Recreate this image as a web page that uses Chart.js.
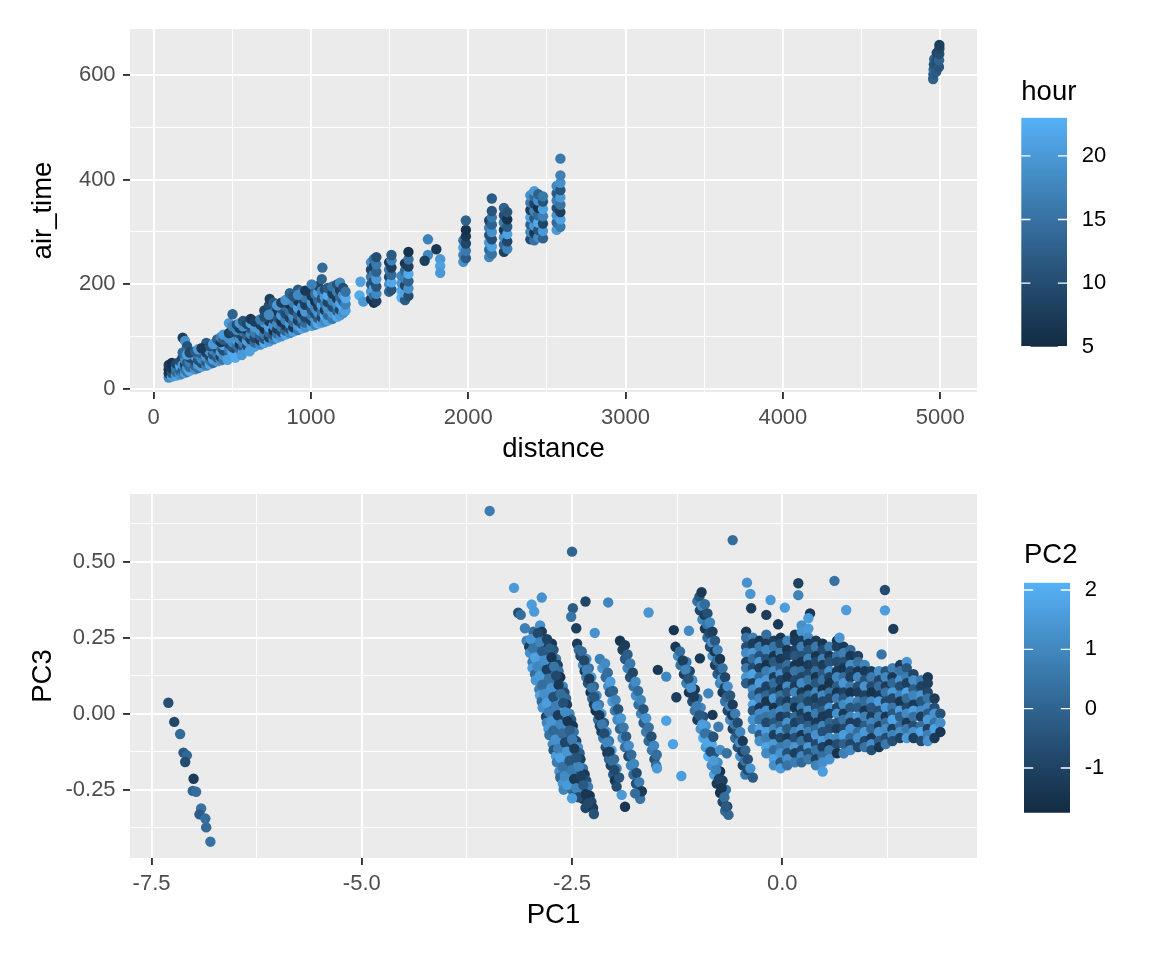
<!DOCTYPE html>
<html><head><meta charset="utf-8">
<script src="https://cdn.jsdelivr.net/npm/chart.js@4.4.1/dist/chart.umd.min.js"></script>
<style>
html,body{margin:0;padding:0;background:#ffffff;}
#wrap{position:relative;width:1152px;height:960px;overflow:hidden;background:#ffffff;}
canvas{position:absolute;display:block;}
</style></head><body>
<div id="wrap">
<canvas id="cTop" width="1152" height="480" style="left:0;top:0;width:1152px;height:480px"></canvas>
<canvas id="cBottom" width="1152" height="480" style="left:0;top:480px;width:1152px;height:480px"></canvas>
<canvas id="lTop" width="152" height="310" style="left:1000px;top:60px;width:152px;height:310px"></canvas>
<canvas id="lBottom" width="152" height="320" style="left:1000px;top:520px;width:152px;height:320px"></canvas>
</div>
<script>
// ---------------- DATA: top panel [distance, air_time, hour] ----------------
const flightsBand = [
[96,22,18],[96,30,7],[96,38,6],[96,46,8],
[116,24,20],[116,31,11],[116,40,7],[116,50,6],
[143,26,21],[143,33,14],[143,41,16],[143,49,9],
[169,28,19],[169,35,13],[169,44,22],[169,53,10],
[185,30,17],[185,37,12],[185,46,20],[185,62,9],[185,98,8],
[200,31,21],[200,38,15],[200,47,8],[200,56,18],[200,92,19],
[213,33,16],[213,41,20],[213,50,12],[213,82,11],
[229,35,22],[229,42,14],[229,52,17],[229,60,10],
[264,38,19],[264,45,13],[264,54,9],[264,63,21],
[283,40,15],[283,47,20],[283,56,11],[283,66,16],
[305,43,21],[305,50,10],[305,58,18],[305,68,13],
[335,45,17],[335,52,12],[335,61,20],[335,70,8],[335,88,12],
[357,48,22],[357,55,16],[357,63,9],[357,72,19],
[378,50,14],[378,57,21],[378,66,11],[378,75,17],
[404,53,20],[404,60,12],[404,68,16],[404,78,9],[404,86,19],
[427,55,18],[427,62,8],[427,71,21],[427,80,14],
[444,57,15],[444,65,19],[444,74,10],[444,84,22],
[479,61,21],[479,68,13],[479,77,17],[479,87,9],[479,126,20],
[502,64,16],[502,71,22],[502,80,11],[502,90,18],[502,100,14],[502,143,13],
[529,67,20],[529,74,9],[529,83,15],[529,93,21],[529,103,12],
[547,70,18],[547,77,14],[547,86,7],[547,96,19],[547,106,10],
[569,72,22],[569,80,12],[569,89,17],[569,99,8],[569,110,15],
[594,75,19],[594,83,10],[594,92,21],[594,102,13],[594,113,6],
[617,78,16],[617,86,20],[617,95,8],[617,105,18],[617,116,11],
[642,81,21],[642,89,14],[642,98,9],[642,108,16],[642,119,20],
[678,85,18],[678,93,7],[678,102,13],[678,112,20],[678,123,8],
[704,88,22],[704,96,11],[704,105,16],[704,115,6],[704,127,19],[704,150,9],
[733,91,20],[733,99,8],[733,108,14],[733,118,21],[733,130,7],[733,160,10],[738,172,8],
[762,95,17],[762,103,12],[762,112,6],[762,122,19],[762,134,9],[762,146,15],[762,165,12],
[786,98,21],[786,106,15],[786,115,8],[786,125,18],[786,137,11],[786,150,7],
[812,101,19],[812,109,9],[812,119,16],[812,129,6],[812,141,20],[812,154,12],
[838,104,22],[838,112,13],[838,122,7],[838,132,17],[838,144,10],[838,158,14],
[866,107,18],[866,115,10],[866,125,20],[866,136,8],[866,148,15],[866,162,6],[866,175,9],
[888,110,21],[888,118,7],[888,128,14],[888,139,19],[888,151,9],[888,165,17],
[918,113,16],[918,121,20],[918,131,8],[918,142,13],[918,155,21],[918,168,7],[918,190,12],
[944,116,22],[944,124,11],[944,134,17],[944,145,6],[944,158,19],[944,172,10],[944,186,15],
[964,118,19],[964,127,14],[964,137,9],[964,148,20],[964,161,8],[964,175,16],
[1005,121,21],[1005,130,8],[1005,140,16],[1005,151,11],[1005,164,20],[1005,178,7],[1005,192,13],
[1028,123,17],[1028,133,20],[1028,143,10],[1028,154,18],[1028,167,6],[1028,181,15],
[1046,125,22],[1046,135,12],[1046,146,19],[1046,157,8],[1046,170,14],[1046,184,21],[1046,197,9],
[1069,127,20],[1069,137,9],[1069,148,15],[1069,160,21],[1069,173,11],[1069,187,17],[1069,210,13],[1073,232,14],
[1089,129,18],[1089,140,22],[1089,151,7],[1089,163,16],[1089,176,20],[1089,190,10],
[1107,131,21],[1107,142,14],[1107,154,19],[1107,166,9],[1107,179,22],[1107,193,12],
[1137,134,16],[1137,145,20],[1137,157,10],[1137,169,18],[1137,182,8],[1137,196,15],
[1167,138,22],[1167,149,13],[1167,161,19],[1167,173,7],[1167,186,17],[1167,200,11],
[1185,141,20],[1185,152,9],[1185,164,21],[1185,176,14],[1185,189,8],[1185,203,18],
[1205,145,19],[1205,156,22],[1205,168,12],[1205,180,20],[1205,193,10],
[1220,150,21],[1220,162,17],[1220,174,22],[1220,186,15]
];
const flightsBandEdges = [
[185,70,14],[213,66,21],[229,70,9],[264,72,12],[283,76,20],[305,78,7],[357,82,11],[378,86,20],
[404,95,13],[427,90,7],[427,99,17],[444,94,12],[444,104,20],[479,97,19],[479,107,8],[502,110,9],
[502,120,17],[529,113,18],[529,123,10],[547,116,8],[547,126,20],[569,120,19],[569,130,11],[594,124,9],
[617,126,21],[617,134,7],[642,129,8],[678,133,16],[704,138,10],[733,142,18],[786,160,20],[812,165,8],
[838,170,19],[866,183,13],[888,177,11],[918,180,18],[964,188,7],[1005,200,17],
[470,56,21],[520,60,22],[560,65,20],[610,72,21]
];
const flightsColumns = [
[1315,205,21],[1309,179,22],[1333,167,20],
[1382,172,7],[1382,186,20],[1382,200,12],[1382,214,16],[1382,228,9],[1382,242,19],
[1400,165,6],[1400,178,14],[1400,192,21],[1400,206,10],[1400,220,17],[1400,234,8],[1400,248,15],
[1416,168,8],[1416,182,18],[1416,196,11],[1416,210,20],[1416,224,13],[1416,238,16],[1416,252,10],
[1497,186,13],[1497,200,19],[1497,214,9],[1497,228,16],[1497,242,7],
[1512,190,11],[1512,204,22],[1512,218,14],[1512,232,8],[1512,246,17],[1512,256,12],
[1576,175,23],[1576,188,22],[1576,202,20],[1576,216,18],
[1598,170,12],[1598,184,21],[1598,198,9],[1598,212,17],[1598,226,14],[1598,240,7],
[1620,178,10],[1620,192,19],[1620,206,13],[1620,220,22],[1620,234,8],[1620,248,15],[1620,262,6],
[1744,286,17],[1744,256,18],[1723,245,8],[1797,267,7],[1822,248,20],[1822,235,21],[1822,222,20],
[1969,243,19],[1969,256,17],[1969,270,21],[1969,284,15],
[1985,250,12],[1985,264,16],[1985,278,9],[1985,292,7],[1985,304,6],[1985,322,13],
[2133,252,18],[2133,266,14],[2133,280,20],[2133,294,11],[2133,308,17],[2133,322,9],
[2150,258,15],[2150,272,21],[2150,286,10],[2150,300,19],[2150,314,13],[2150,328,16],[2150,340,11],[2150,364,12],
[2227,262,8],[2227,276,14],[2227,290,19],[2227,304,7],[2227,318,16],[2227,332,10],[2227,346,13],
[2248,268,17],[2248,282,9],[2248,296,21],[2248,310,12],[2248,324,6],[2248,338,11],
[2395,286,10],[2395,300,18],[2395,314,13],[2395,328,21],[2395,342,8],[2395,356,16],[2395,370,19],
[2420,284,15],[2420,298,7],[2420,312,20],[2420,326,12],[2420,340,17],[2420,354,9],[2420,368,14],[2420,378,20],
[2445,290,18],[2445,304,11],[2445,318,22],[2445,332,14],[2445,346,6],[2445,360,19],[2445,372,13],
[2475,288,13],[2475,302,20],[2475,316,9],[2475,330,17],[2475,344,21],[2475,358,11],[2475,368,16],
[2562,304,20],[2562,318,14],[2562,332,19],[2562,346,10],[2562,360,17],[2562,374,12],[2562,388,18],
[2586,310,16],[2586,324,21],[2586,338,8],[2586,352,15],[2586,366,20],[2586,380,11],[2586,394,19],[2586,408,17],[2586,440,16]
];
const flightsHNL = [
[4955,592,13],[4957,601,12],[4958,610,14],[4960,620,11],[4962,630,13],
[4975,606,12],[4976,626,10],[4978,642,9],
[4992,615,11],[4993,628,13],[4994,640,10],[4995,650,9],[4995,657,8]
];
const hourRange = [5, 23];
const hourBreaks = [5, 10, 15, 20];
const distanceTicks = [0, 500, 1000, 1500, 2000, 2500, 3000, 3500, 4000, 4500, 5000];
const airTimeTicks = [0, 100, 200, 300, 400, 500, 600];

// ---------------- DATA: bottom panel [PC1, PC3, PC2] ----------------
const pcaFar = [
[-7.30,0.036,-0.6],[-7.23,-0.027,-0.9],[-7.16,-0.067,0.2],[-7.12,-0.128,-0.3],[-7.08,-0.137,0.1],
[-7.10,-0.159,-0.7],[-7.00,-0.214,-1.2],[-7.01,-0.254,0.0],[-6.97,-0.257,0.3],[-6.91,-0.312,0.4],
[-6.93,-0.331,-0.2],[-6.86,-0.345,0.3],[-6.85,-0.374,0.2],[-6.80,-0.421,0.4]
];
const stripesLeft = [
[-3.04,0.24,0.9],[-3.01,0.22,-1.1],[-3.00,0.20,1.2],[-2.97,0.17,0.6],[-2.97,0.15,1.6],[-2.94,0.13,0.3],[-2.93,0.11,1.4],[-2.89,0.08,0.8],[-2.88,0.06,1.7],[-2.86,0.04,0.2],[-2.85,0.02,1.3],[-2.81,-0.01,-0.9],[-2.80,-0.03,1.0],[-2.78,-0.05,1.5],[-2.77,-0.07,0.4],[-2.73,-0.10,1.1],[-2.72,-0.12,-0.4],[-2.69,-0.14,1.6],[-2.68,-0.16,0.7],[-2.65,-0.19,1.2],[-2.64,-0.21,0.1],[-2.61,-0.23,1.4],[-2.60,-0.25,0.9],
[-2.96,0.27,0.2],[-2.94,0.25,1.1],[-2.93,0.23,-0.6],[-2.90,0.20,0.7],[-2.89,0.18,1.5],[-2.86,0.16,-0.2],[-2.85,0.14,0.9],[-2.82,0.11,1.3],[-2.81,0.09,0.0],[-2.78,0.07,1.6],[-2.77,0.05,0.5],[-2.74,0.02,-1.0],[-2.72,0.00,1.2],[-2.71,-0.02,0.3],[-2.68,-0.04,1.4],[-2.66,-0.07,-0.5],[-2.65,-0.09,0.8],[-2.62,-0.11,1.7],[-2.60,-0.13,0.1],[-2.58,-0.16,1.0],[-2.57,-0.18,-0.8],[-2.54,-0.20,0.6],[-2.52,-0.22,1.3],[-2.50,-0.25,0.2],[-2.48,-0.27,-0.3],
[-2.88,0.29,1.3],[-2.86,0.27,-1.2],[-2.84,0.24,0.4],[-2.82,0.22,-1.4],[-2.80,0.20,-0.7],[-2.78,0.18,0.9],[-2.76,0.15,-1.3],[-2.74,0.13,0.2],[-2.72,0.11,-0.9],[-2.70,0.09,1.1],[-2.67,0.06,-0.4],[-2.66,0.04,1.5],[-2.64,0.02,1.8],[-2.61,-0.01,0.6],[-2.59,-0.03,-1.1],[-2.58,-0.05,1.2],[-2.56,-0.07,-0.2],[-2.53,-0.10,0.9],[-2.51,-0.12,-1.3],[-2.49,-0.14,0.5],[-2.48,-0.16,1.4],[-2.45,-0.19,-0.6],[-2.43,-0.21,0.3],[-2.41,-0.23,-1.2],[-2.39,-0.26,0.8],[-2.37,-0.28,-1.4],[-2.34,-0.31,-0.9],
[-2.74,0.23,-1.3],[-2.72,0.21,-0.4],[-2.69,0.18,0.6],[-2.67,0.16,-1.0],[-2.66,0.14,0.3],[-2.64,0.12,-1.5],[-2.61,0.09,0.9],[-2.59,0.07,-0.7],[-2.57,0.05,0.2],[-2.56,0.03,-1.2],[-2.53,0.00,1.0],[-2.51,-0.02,-0.3],[-2.49,-0.04,-1.4],[-2.48,-0.06,0.5],[-2.45,-0.09,-0.9],[-2.43,-0.11,1.2],[-2.41,-0.13,-0.1],[-2.40,-0.15,-1.1],[-2.37,-0.18,0.4],[-2.35,-0.20,-1.3],[-2.33,-0.22,-0.6],[-2.31,-0.24,0.7],[-2.29,-0.27,-1.4],[-2.27,-0.29,-0.8],[-2.25,-0.31,-1.2],[-2.24,-0.33,-0.5]
];
const stripesLeftFill = [
[-2.990,0.245,1.4],[-2.962,0.215,0.5],[-2.938,0.185,1.7],[-2.911,0.155,1.0],[-2.884,0.125,1.5],[-2.855,0.095,0.3],[-2.830,0.065,1.2],[-2.803,0.035,1.6],[-2.774,0.005,0.7],[-2.749,-0.025,1.4],[-2.720,-0.055,0.1],[-2.695,-0.085,1.3],[-2.666,-0.115,0.8],[-2.641,-0.145,1.7],[-2.612,-0.175,0.4],[-2.587,-0.205,1.1],[-2.558,-0.235,1.5],
[-2.908,0.265,-0.8],[-2.883,0.235,0.9],[-2.854,0.205,-0.3],[-2.829,0.175,1.2],[-2.800,0.145,-1.1],[-2.775,0.115,0.4],[-2.746,0.085,1.3],[-2.721,0.055,-0.6],[-2.692,0.025,0.8],[-2.667,-0.005,-1.2],[-2.638,-0.035,1.0],[-2.613,-0.065,0.2],[-2.584,-0.095,-0.9],[-2.559,-0.125,1.4],[-2.530,-0.155,-0.4],[-2.505,-0.185,0.6],[-2.476,-0.215,-1.3],[-2.451,-0.245,0.9],[-2.422,-0.275,-0.7],
[-2.797,0.245,-1.0],[-2.768,0.215,-0.2],[-2.743,0.185,-1.4],[-2.714,0.155,0.5],[-2.689,0.125,-0.8],[-2.660,0.095,-1.3],[-2.635,0.065,0.3],[-2.606,0.035,-0.6],[-2.581,0.005,1.1],[-2.552,-0.025,-1.4],[-2.527,-0.055,-0.1],[-2.498,-0.085,0.7],[-2.473,-0.115,-1.2],[-2.444,-0.145,-0.5],[-2.419,-0.175,0.9],[-2.390,-0.205,-1.1],[-2.365,-0.235,-0.3],[-2.336,-0.265,-1.4],[-2.311,-0.295,-0.8]
];
const stripesMid = [
[-2.44,0.23,-1.2],[-2.42,0.21,0.3],[-2.40,0.19,-0.8],[-2.37,0.16,1.1],[-2.35,0.14,-1.3],[-2.33,0.12,0.6],[-2.31,0.10,-0.5],[-2.28,0.07,-1.4],[-2.26,0.05,0.2],[-2.24,0.03,-1.1],[-2.22,0.01,-1.5],[-2.19,-0.02,0.4],[-2.17,-0.04,-0.9],[-2.15,-0.06,-1.2],[-2.13,-0.08,0.7],[-2.10,-0.11,-0.6],[-2.08,-0.13,-1.3],[-2.06,-0.15,0.1],[-2.04,-0.17,-1.0],[-2.01,-0.20,-0.3],[-1.99,-0.22,-1.4],[-1.97,-0.24,-0.7],
[-2.33,0.18,1.2],[-2.30,0.15,0.4],[-2.27,0.12,1.5],[-2.24,0.09,0.0],[-2.21,0.06,1.1],[-2.18,0.03,0.7],[-2.15,0.00,1.6],[-2.12,-0.03,-0.2],[-2.09,-0.06,1.3],[-2.06,-0.09,0.5],[-2.03,-0.12,1.8],[-2.00,-0.15,0.2],[-1.97,-0.18,1.0],[-1.94,-0.21,-0.4],
[-2.385,0.205,0.2],[-2.355,0.175,-0.9],[-2.325,0.145,0.8],[-2.295,0.115,-1.2],[-2.265,0.085,0.5],[-2.235,0.055,-0.4],[-2.205,0.025,1.2],[-2.175,-0.005,-1.3],[-2.145,-0.035,0.6],[-2.115,-0.065,-0.7],[-2.085,-0.095,1.0],[-2.055,-0.125,-1.1],[-2.025,-0.155,0.3],[-1.995,-0.185,-0.8],
[-2.17,0.18,0.8],[-2.14,0.15,1.4],[-2.10,0.12,0.2],[-2.07,0.09,1.2],[-2.05,0.07,-0.3],[-2.02,0.04,1.5],[-1.99,0.01,0.6],[-1.96,-0.02,1.1],[-1.93,-0.05,0.0],[-1.90,-0.08,1.3],[-1.87,-0.11,0.4],[-1.83,-0.14,-0.8],[-1.80,-0.17,0.9],[-1.77,-0.20,0.3],[-1.74,-0.23,-0.6],[-1.71,-0.26,-1.0],[-1.69,-0.28,0.5],
[-2.107,0.165,1.1],[-2.075,0.135,0.3],[-2.044,0.105,1.6],[-2.013,0.075,0.0],[-1.982,0.045,0.9],[-1.951,0.015,-0.5],[-1.919,-0.015,1.4],[-1.888,-0.045,0.6],[-1.857,-0.075,-0.2],[-1.826,-0.105,1.2],[-1.795,-0.135,0.2],[-1.763,-0.165,1.0],[-1.732,-0.195,-0.7],[-1.701,-0.225,0.7],[-1.670,-0.255,-1.2],
[-1.93,0.24,-1.4],[-1.90,0.21,-1.1],[-1.87,0.18,-0.3],[-1.84,0.15,0.9],[-1.81,0.12,-0.6],[-1.77,0.09,0.5],[-1.74,0.06,1.2],[-1.71,0.03,0.3],[-1.68,0.00,1.0],[-1.65,-0.03,-0.2],[-1.62,-0.06,0.7],[-1.59,-0.09,0.1],[-1.55,-0.12,0.6],[-1.52,-0.15,-0.5],[-1.50,-0.17,0.2],
[-1.871,0.225,-1.2],[-1.840,0.195,-0.2],[-1.808,0.165,0.6],[-1.777,0.135,-0.9],[-1.745,0.105,1.1],[-1.714,0.075,0.2],[-1.682,0.045,0.9],[-1.651,0.015,-0.4],[-1.619,-0.015,1.3],[-1.588,-0.045,0.4],[-1.556,-0.075,-0.6],[-1.525,-0.105,1.0],[-1.493,-0.135,0.3]
];
const stripesRight = [
[-1.27,0.22,-1.3],[-1.24,0.19,1.1],[-1.21,0.16,0.4],[-1.17,0.13,-1.0],[-1.14,0.10,0.8],[-1.11,0.07,-1.4],[-1.07,0.04,-0.6],[-1.04,0.01,0.5],[-1.01,-0.02,-1.2],[-0.97,-0.05,1.3],[-0.94,-0.08,1.9],[-0.91,-0.11,1.5],[-0.88,-0.14,2.0],[-0.84,-0.17,1.2],[-0.81,-0.20,1.7],[-0.78,-0.23,-1.3],[-0.74,-0.26,-1.5],[-0.71,-0.29,-0.9],[-0.68,-0.32,0.2],
[-1.14,0.17,0.6],[-1.10,0.14,-0.8],[-1.07,0.11,1.2],[-1.04,0.08,-1.3],[-1.01,0.05,0.3],[-0.97,0.02,1.0],[-0.94,-0.01,-0.5],[-0.91,-0.04,1.4],[-0.87,-0.07,0.7],[-0.84,-0.10,1.8],[-0.81,-0.13,-0.2],[-0.77,-0.16,1.1],[-0.74,-0.19,-1.4],[-0.71,-0.22,-1.1],[-0.67,-0.25,0.4],
[-1.216,0.205,0.3],[-1.183,0.175,-1.1],[-1.150,0.145,0.9],[-1.117,0.115,-0.5],[-1.084,0.085,1.3],[-1.051,0.055,-1.2],[-1.018,0.025,0.7],[-0.985,-0.005,-0.3],[-0.952,-0.035,1.6],[-0.919,-0.065,0.4],[-0.886,-0.095,1.8],[-0.853,-0.125,-0.6],[-0.820,-0.155,1.5],[-0.787,-0.185,0.9],[-0.754,-0.215,-1.0],[-0.721,-0.245,-1.4],[-0.688,-0.275,0.3],[-0.655,-0.305,-1.2],
[-1.01,0.37,0.4],[-0.98,0.34,-0.9],[-0.95,0.31,1.0],[-0.92,0.28,-1.3],[-0.89,0.25,0.2],[-0.86,0.22,-0.7],[-0.83,0.19,1.3],[-0.80,0.16,-1.2],[-0.77,0.13,-0.2],[-0.74,0.10,0.9],[-0.71,0.07,-1.4],[-0.68,0.04,0.5],[-0.65,0.01,-0.8],[-0.62,-0.02,1.1],[-0.59,-0.05,-1.1],[-0.56,-0.08,0.3],[-0.53,-0.11,-0.5],[-0.50,-0.14,1.2],[-0.47,-0.17,-1.0],[-0.44,-0.20,0.6],
[-0.985,0.385,-0.4],[-0.955,0.355,1.1],[-0.925,0.325,-1.2],[-0.895,0.295,0.5],[-0.865,0.265,-0.8],[-0.835,0.235,1.2],[-0.805,0.205,-1.4],[-0.775,0.175,0.2],[-0.745,0.145,-0.6],[-0.715,0.115,1.3],[-0.685,0.085,-1.1],[-0.655,0.055,0.0],[-0.625,0.025,1.0],[-0.595,-0.005,-1.3],[-0.565,-0.035,0.6],[-0.535,-0.065,-0.4],[-0.505,-0.095,1.1],[-0.475,-0.125,-1.2],[-0.445,-0.155,0.4],[-0.415,-0.185,-0.7],
[-0.96,0.40,-1.3],[-0.92,0.36,0.2],[-0.89,0.33,-0.6],[-0.86,0.30,1.0],[-0.83,0.27,-1.1],[-0.80,0.24,-0.3],[-0.77,0.21,0.8],[-0.74,0.18,-1.4],[-0.71,0.15,0.4],[-0.68,0.12,-0.9],[-0.65,0.09,1.2],[-0.62,0.06,-0.4],[-0.59,0.03,-1.2],[-0.56,0.00,0.7],[-0.53,-0.03,-0.7],[-0.50,-0.06,1.0],[-0.47,-0.09,-1.3],[-0.44,-0.12,0.1],[-0.41,-0.15,-0.6],[-0.38,-0.18,1.3],[-0.35,-0.21,-0.2]
];
const pcaStray = [
[-3.48,0.667,0.7],[-2.50,0.533,0.0],[-3.19,0.414,1.5],[-2.86,0.382,1.3],[-2.98,0.359,1.6],[-2.95,0.336,1.5],
[-3.14,0.332,-0.6],[-3.11,0.325,0.3],[-3.06,0.281,0.8],[-2.49,0.347,-0.2],[-2.34,0.369,-0.9],[-2.51,0.319,0.5],
[-2.45,0.281,-1.1],[-2.07,0.366,1.0],[-2.23,0.266,1.3],[-1.59,0.333,1.4],[-1.48,0.144,-1.3],[-1.38,0.122,1.0],
[-1.26,0.054,-1.1],[-1.38,-0.023,1.7],[-1.30,-0.10,1.7],[-1.20,-0.205,1.6],[-1.11,0.273,1.1],[-1.29,0.275,-1.4],
[-2.50,-0.278,1.6],[-1.91,-0.267,1.5],[-1.87,-0.306,-1.4],[-1.49,-0.18,1.5],[-0.59,0.571,0.2],[-0.42,0.431,1.3],
[-0.38,0.394,1.4],[-0.37,0.347,-1.2],[-0.14,0.374,1.5],[0.03,0.349,1.6],[0.19,0.429,-1.0],[0.19,0.39,0.9],
[0.62,0.437,0.4],[0.76,0.341,1.6],[1.22,0.407,-0.7],[1.22,0.34,1.6],[1.32,0.279,-1.2],[1.18,0.195,0.5],
[0.68,0.25,1.4],[-0.19,0.325,-1.2],[-0.05,0.294,-1.3],[0.33,0.33,-1.3],[0.31,0.314,1.6],[-0.98,0.182,-1.3],
[-0.88,0.067,0.9],[-0.83,-0.004,-1.3],[-0.76,-0.043,0.7],[-0.74,-0.119,1.2],[-0.66,-0.13,0.4],[-0.82,-0.076,-0.5],
[-0.64,-0.333,0.1],[-0.67,-0.306,-0.3],[-1.75,-0.262,0.3]
];
// dense cluster, read column by column: PC1 of each column, PC3 and PC2 of its points
const blobPC1 = [-0.43,-0.35,-0.27,-0.19,-0.10,-0.02,0.06,0.15,0.23,0.31,0.40,0.48,0.56,0.65,0.73,0.81,0.90,0.98,1.06,1.15,1.23,1.31,1.40,1.48,1.56,1.65,1.73,1.81,1.88];
const blobPC3 = [
[0.27,0.25,0.22,0.20,0.17,0.15,0.12,0.10],
[0.25,0.23,0.20,0.18,0.15,0.13,0.10,0.08,0.06,0.03,0.01,-0.02,-0.05],
[0.24,0.22,0.19,0.17,0.15,0.12,0.10,0.07,0.05,0.02,0.00,-0.02,-0.05,-0.07,-0.09],
[0.26,0.23,0.21,0.18,0.16,0.14,0.11,0.09,0.06,0.04,0.01,-0.01,-0.03,-0.06,-0.08,-0.11,-0.13],
[0.24,0.22,0.19,0.17,0.14,0.12,0.10,0.07,0.05,0.02,0.00,-0.03,-0.05,-0.07,-0.10,-0.12,-0.15,-0.17],
[0.25,0.23,0.20,0.18,0.15,0.13,0.11,0.08,0.06,0.04,0.01,-0.01,-0.04,-0.06,-0.08,-0.11,-0.13,-0.16,-0.18],
[0.24,0.21,0.19,0.16,0.14,0.12,0.09,0.07,0.04,0.02,-0.01,-0.03,-0.05,-0.08,-0.10,-0.13,-0.15,-0.17],
[0.26,0.24,0.21,0.19,0.16,0.14,0.11,0.09,0.07,0.04,0.02,-0.01,-0.03,-0.06,-0.08,-0.11,-0.13,-0.16],
[0.29,0.27,0.24,0.22,0.19,0.17,0.14,0.12,0.10,0.07,0.05,0.02,0.00,-0.02,-0.05,-0.07,-0.09,-0.12,-0.14,-0.16],
[0.28,0.25,0.23,0.21,0.18,0.16,0.13,0.11,0.08,0.06,0.04,0.01,-0.01,-0.04,-0.06,-0.08,-0.11,-0.13,-0.15],
[0.24,0.22,0.19,0.17,0.14,0.12,0.10,0.07,0.05,0.02,0.00,-0.03,-0.05,-0.07,-0.10,-0.12,-0.15,-0.17],
[0.23,0.21,0.18,0.16,0.13,0.11,0.08,0.06,0.04,0.01,-0.01,-0.04,-0.06,-0.09,-0.11,-0.14,-0.16,-0.19],
[0.22,0.19,0.17,0.14,0.12,0.10,0.07,0.05,0.02,0.00,-0.03,-0.05,-0.08,-0.10,-0.12,-0.15],
[0.24,0.22,0.19,0.17,0.14,0.12,0.09,0.07,0.05,0.02,0.00,-0.03,-0.05,-0.08,-0.10,-0.13],
[0.22,0.20,0.17,0.15,0.12,0.10,0.07,0.05,0.03,0.00,-0.02,-0.05,-0.07,-0.10,-0.13],
[0.21,0.19,0.16,0.14,0.12,0.09,0.07,0.04,0.02,-0.01,-0.03,-0.05,-0.08,-0.10,-0.12],
[0.19,0.17,0.14,0.12,0.09,0.07,0.04,0.02,-0.01,-0.03,-0.06,-0.08,-0.11],
[0.16,0.14,0.11,0.09,0.06,0.04,0.01,-0.01,-0.04,-0.06,-0.09,-0.11],
[0.14,0.12,0.09,0.07,0.04,0.02,-0.01,-0.03,-0.05,-0.08,-0.10,-0.12],
[0.14,0.11,0.09,0.06,0.04,0.01,-0.01,-0.04,-0.06,-0.09,-0.11],
[0.14,0.12,0.09,0.07,0.04,0.02,-0.01,-0.03,-0.05,-0.08,-0.10],
[0.15,0.12,0.10,0.07,0.05,0.02,0.00,-0.02,-0.05,-0.07,-0.09],
[0.16,0.14,0.11,0.09,0.06,0.04,0.01,-0.01,-0.04,-0.06,-0.08],
[0.17,0.15,0.12,0.10,0.07,0.05,0.02,0.00,-0.03,-0.05,-0.08],
[0.13,0.11,0.08,0.06,0.03,0.01,-0.01,-0.04,-0.06,-0.08],
[0.11,0.09,0.06,0.04,0.01,-0.01,-0.04,-0.06,-0.09],
[0.12,0.10,0.07,0.05,0.02,0.00,-0.02,-0.05,-0.07,-0.09],
[0.05,0.02,0.00,-0.03,-0.05,-0.08],
[0.00,-0.03,-0.06]
];
const blobPC2 = [
[-1.3,0.4,-0.6,1.1,-1.0,0.6,1.4,-0.2],
[0.8,-1.2,1.5,0.3,-0.7,1.7,-1.1,1.2,0.5,1.8,-0.4,1.3,0.9],
[-1.4,0.6,-0.5,1.4,-1.2,0.2,1.6,-0.9,0.9,-1.3,1.1,0.4,1.7,-0.3,1.2],
[0.3,-1.3,1.0,-0.6,-1.5,0.7,1.5,-1.0,0.1,-1.4,1.2,0.5,-0.8,1.6,0.8,1.8,1.1],
[-1.1,0.5,-1.4,-0.3,1.1,-1.2,0.2,-0.7,1.4,-1.5,0.6,-0.4,1.0,-1.1,1.5,0.3,1.7,1.2],
[-1.4,-0.8,0.7,-1.3,-0.2,1.2,-1.0,-1.5,0.4,-0.6,1.0,-1.2,0.1,1.4,-0.9,0.6,1.3,-0.3,1.6],
[0.9,-1.5,-1.1,0.3,-0.7,-1.4,1.1,-0.4,-1.2,0.6,-0.9,1.3,-0.2,-1.3,0.8,-0.6,1.2,0.4],
[-1.5,-1.3,-1.0,-0.4,-1.4,0.5,-0.8,-1.2,1.0,-0.3,-1.5,0.2,-1.0,0.9,-0.6,1.4,-1.1,0.7],
[1.2,1.4,-1.2,0.8,-0.5,-1.4,0.3,-0.9,1.1,-1.3,-0.2,0.7,-1.1,-0.6,1.3,-1.4,0.4,-0.8,1.0,0.1],
[1.5,1.1,-1.3,-0.4,0.9,-1.2,-0.7,0.5,-1.5,0.2,-0.9,1.2,-1.3,-0.1,0.8,-1.0,1.4,-0.5,0.6],
[-1.2,0.6,-1.4,-0.9,0.3,-1.5,-0.4,1.0,-1.1,-0.6,0.7,-1.3,0.2,1.3,-0.8,0.5,-1.0,0.9],
[-1.4,-0.7,0.8,-1.2,-0.3,0.4,-1.5,1.1,-0.9,-0.2,-1.3,0.9,-0.6,1.5,-1.1,0.3,1.2,1.6],
[0.7,-1.3,-0.5,1.2,-1.0,-1.5,0.4,-0.8,1.4,-1.2,0.0,-0.6,1.1,-1.4,0.6,1.3],
[-1.5,-1.1,0.5,-0.7,-1.3,1.0,-0.2,-1.4,0.7,-0.9,1.3,-0.4,-1.2,0.9,-0.7,-1.5],
[-1.2,0.8,-0.6,-1.4,0.3,1.4,-1.0,-0.3,1.1,-1.3,0.5,-0.8,1.6,-0.1,0.8],
[0.2,-1.3,1.2,-0.7,-1.1,0.6,-1.5,1.5,-0.4,0.9,-1.2,1.3,0.1,-0.9,1.0],
[-1.0,0.4,-1.4,1.0,-0.6,-1.2,0.7,-0.3,1.4,-1.1,0.3,1.2,-0.8],
[0.9,-1.3,-0.5,1.3,-1.0,0.2,-1.4,0.8,-0.2,1.5,-0.9,0.5],
[-1.1,0.6,-0.7,-1.5,1.1,-0.4,-1.2,0.9,0.1,-1.3,1.2,-0.6],
[1.2,-0.9,0.3,-1.3,1.6,-0.6,0.7,-1.1,1.3,-0.2,-1.4],
[-0.5,1.0,-1.2,0.4,-0.8,1.4,-1.4,0.2,1.1,-0.7,0.6],
[0.8,-1.3,0.1,1.5,-0.9,0.5,-0.3,1.7,-1.1,0.9,-0.6],
[-1.2,0.5,1.3,-0.7,0.9,-1.4,1.6,-0.2,0.3,1.2,-1.0],
[1.4,-0.4,0.7,-1.1,1.8,0.2,-0.8,1.1,-1.3,0.6,1.5],
[-0.9,1.2,-0.2,0.9,-1.3,1.6,0.4,-0.6,1.3,-1.1],
[0.6,-1.0,1.4,-0.4,1.1,-1.2,0.3,1.7,-0.7],
[-1.3,-1.1,-0.8,0.5,1.2,-0.3,1.5,-1.0,0.8,1.3],
[-1.2,-0.6,1.3,0.4,1.7,-1.3],
[-0.5,1.2,-1.4]
];
const pc2Range = [-1.753, 2.123];
const pc2Breaks = [-1, 0, 1, 2];
const pc1Ticks = [-7.5, -6.25, -5, -3.75, -2.5, -1.25, 0, 1.25];
const pc3Ticks = [-0.375, -0.25, -0.125, 0, 0.125, 0.25, 0.375, 0.5, 0.625];

// ---------------- colour ramp (ggplot default: #132B43 -> #56B1F7, Lab) ----------------
const LOW = '#132B43', HIGH = '#56B1F7';
function hexRgb(h){return [parseInt(h.slice(1,3),16),parseInt(h.slice(3,5),16),parseInt(h.slice(5,7),16)];}
function toLin(c){c/=255;return c<=0.04045?c/12.92:Math.pow((c+0.055)/1.055,2.4);}
function fromLin(c){const v=c<=0.0031308?12.92*c:1.055*Math.pow(c,1/2.4)-0.055;return Math.round(Math.max(0,Math.min(1,v))*255);}
const Xn=0.95047,Yn=1,Zn=1.08883;
function lf(t){return t>0.008856?Math.cbrt(t):7.787*t+16/116;}
function lfi(t){return t>0.206893?t*t*t:(t-16/116)/7.787;}
function rgbToLab(c){const R=toLin(c[0]),G=toLin(c[1]),B=toLin(c[2]);
  const X=0.4124*R+0.3576*G+0.1805*B,Y=0.2126*R+0.7152*G+0.0722*B,Z=0.0193*R+0.1192*G+0.9505*B;
  const fx=lf(X/Xn),fy=lf(Y/Yn),fz=lf(Z/Zn);return [116*fy-16,500*(fx-fy),200*(fy-fz)];}
function labToRgb(l){const fy=(l[0]+16)/116,fx=fy+l[1]/500,fz=fy-l[2]/200;
  const X=Xn*lfi(fx),Y=Yn*lfi(fy),Z=Zn*lfi(fz);
  return [fromLin(3.2406*X-1.5372*Y-0.4986*Z),fromLin(-0.9689*X+1.8758*Y+0.0415*Z),fromLin(0.0557*X-0.2040*Y+1.0570*Z)];}
const labLo=rgbToLab(hexRgb(LOW)), labHi=rgbToLab(hexRgb(HIGH));
function ramp(t){t=Math.max(0,Math.min(1,t));const l=[0,1,2].map(i=>labLo[i]+(labHi[i]-labLo[i])*t);const c=labToRgb(l);return `rgb(${c[0]},${c[1]},${c[2]})`;}
function colourFor(v, range){return ramp((v-range[0])/(range[1]-range[0]));}

// ---------------- assemble points ----------------
const toPt = r => ({x:r[0], y:r[1], c:r[2]});
const topPts = [...flightsBand, ...flightsBandEdges, ...flightsColumns, ...flightsHNL].map(toPt);
const blobPts = [];
blobPC1.forEach((x,i) => blobPC3[i].forEach((y,j) => blobPts.push({x:x, y:y, c:(blobPC2[i][j] ?? 0)})));
const bottomPts = [
  ...pcaFar.map(toPt), ...stripesLeft.map(toPt), ...stripesLeftFill.map(toPt),
  ...blobPts, ...stripesMid.map(toPt), ...stripesRight.map(toPt), ...pcaStray.map(toPt)
];

// ---------------- chart helpers ----------------
const FONT = '"Liberation Sans", Arial, Helvetica, sans-serif';
const panelBg = { id:'panelBg', beforeDraw(chart){ const {ctx, chartArea:a} = chart; ctx.save(); ctx.fillStyle='#EBEBEB'; ctx.fillRect(a.left,a.top,a.right-a.left,a.bottom-a.top); ctx.restore(); } };

function axisOpts(o){
  const isMajor = v => Math.abs(v/o.major - Math.round(v/o.major)) < 1e-6;
  return {
    type:'linear', position:o.position, min:o.min, max:o.max,
    afterBuildTicks: s => { s.ticks = o.tickValues.map(v => ({value:v})); },
    afterFit: s => { if (o.position==='left') s.width=o.size; else s.height=o.size;
      s.paddingLeft=0; s.paddingRight=0; s.paddingTop=0; s.paddingBottom=0; },
    ticks:{ autoSkip:false, maxRotation:0, minRotation:0,
      color:'#4D4D4D', font:{family:FONT, size:22}, padding:o.tickPad,
      callback: v => isMajor(v) ? o.fmt(v) : '' },
    grid:{ color:'#FFFFFF', drawTicks:true, tickLength:7, tickWidth:1.9,
      lineWidth: c => (c.tick && isMajor(c.tick.value)) ? 1.9 : 0.95,
      tickColor: c => (c.tick && isMajor(c.tick.value)) ? '#333333' : 'rgba(0,0,0,0)' },
    border:{ display:false },
    title:{ display:true, text:o.title, color:'#000000', font:{family:FONT, size:27.5}, padding:o.titlePad }
  };
}

function scatterChart(id, pts, range, padTop, xo, yo){
  return new Chart(document.getElementById(id), {
    type:'scatter',
    data:{ datasets:[{ data:pts, pointBackgroundColor:pts.map(p=>colourFor(p.c, range)),
      pointBorderWidth:0, pointBorderColor:'rgba(0,0,0,0)', pointRadius:5.2, pointHoverRadius:5.2 }] },
    options:{ responsive:false, animation:false, events:[], devicePixelRatio:1,
      layout:{ padding:{ left:0, top:padTop, right:175, bottom:0 } },
      plugins:{ legend:{display:false}, tooltip:{enabled:false} },
      scales:{ x:axisOpts(xo), y:axisOpts(yo) } },
    plugins:[panelBg]
  });
}

scatterChart('cTop', topPts, hourRange, 29,
  {position:'bottom', min:-150, max:5234, tickValues:distanceTicks, major:1000, size:88, tickPad:6, fmt:v=>String(Math.round(v)), title:'distance', titlePad:{top:0,bottom:13.7}},
  {position:'left', min:-5.5, max:687.5, tickValues:airTimeTicks, major:200, size:130, tickPad:7.4, fmt:v=>String(Math.round(v)), title:'air_time', titlePad:{top:26.5,bottom:0}});

scatterChart('cBottom', bottomPts, pc2Range, 14,
  {position:'bottom', min:-7.756, max:2.315, tickValues:pc1Ticks, major:2.5, size:102, tickPad:6, fmt:v=>v.toFixed(1), title:'PC1', titlePad:{top:0,bottom:28.2}},
  {position:'left', min:-0.4747, max:0.7227, tickValues:pc3Ticks, major:0.25, size:130, tickPad:7.4, fmt:v=>v.toFixed(2), title:'PC3', titlePad:{top:26.5,bottom:0}});

// ---------------- colour bar legends ----------------
const barTicks = { id:'barTicks', afterDatasetsDraw(chart){
  const {ctx, chartArea:a, scales:{y}} = chart; const len=(a.right-a.left)/5;
  ctx.save(); ctx.strokeStyle='#FFFFFF'; ctx.lineWidth=1.3;
  y.ticks.forEach(t => { const py=y.getPixelForValue(t.value);
    ctx.beginPath(); ctx.moveTo(a.left,py); ctx.lineTo(a.left+len,py); ctx.moveTo(a.right-len,py); ctx.lineTo(a.right,py); ctx.stroke(); });
  ctx.restore(); } };

function colourBar(id, title, range, breaks, pad, yWidth){
  return new Chart(document.getElementById(id), {
    type:'bar',
    data:{ labels:[title], datasets:[{ data:[[range[0], range[1]]], borderWidth:0, borderSkipped:false,
      barPercentage:1, categoryPercentage:1,
      backgroundColor: ctx => { const ca=ctx.chart.chartArea; if(!ca) return LOW;
        const g=ctx.chart.ctx.createLinearGradient(0,ca.bottom,0,ca.top);
        for(let i=0;i<=20;i++) g.addColorStop(i/20, ramp(i/20)); return g; } }] },
    options:{ responsive:false, animation:false, events:[], devicePixelRatio:1,
      layout:{ padding:{left:pad.left, top:pad.top, right:0, bottom:pad.bottom} },
      plugins:{ legend:{display:false}, tooltip:{enabled:false},
        title:{ display:true, text:title, align:'start', color:'#000000', font:{family:FONT, size:27.5, weight:'normal'}, padding:{top:0,bottom:pad.titleGap} } },
      scales:{
        x:{ type:'category', display:false },
        y:{ type:'linear', position:'right', min:range[0], max:range[1],
          afterBuildTicks: s => { s.ticks = breaks.map(v => ({value:v})); },
          afterFit: s => { s.width=yWidth; s.paddingTop=0; s.paddingBottom=0; },
          ticks:{ color:'#000000', font:{family:FONT,size:22}, padding:14.7, callback:v=>String(v) },
          grid:{ display:false, drawTicks:false }, border:{display:false} } } },
    plugins:[barTicks]
  });
}
colourBar('lTop', 'hour', hourRange, hourBreaks, {left:21.3, top:15.7, bottom:23.3, titleGap:9}, 85);
colourBar('lBottom', 'PC2', pc2Range, pc2Breaks, {left:24, top:19, bottom:27.3, titleGap:10.7}, 82);
</script>
</body></html>
